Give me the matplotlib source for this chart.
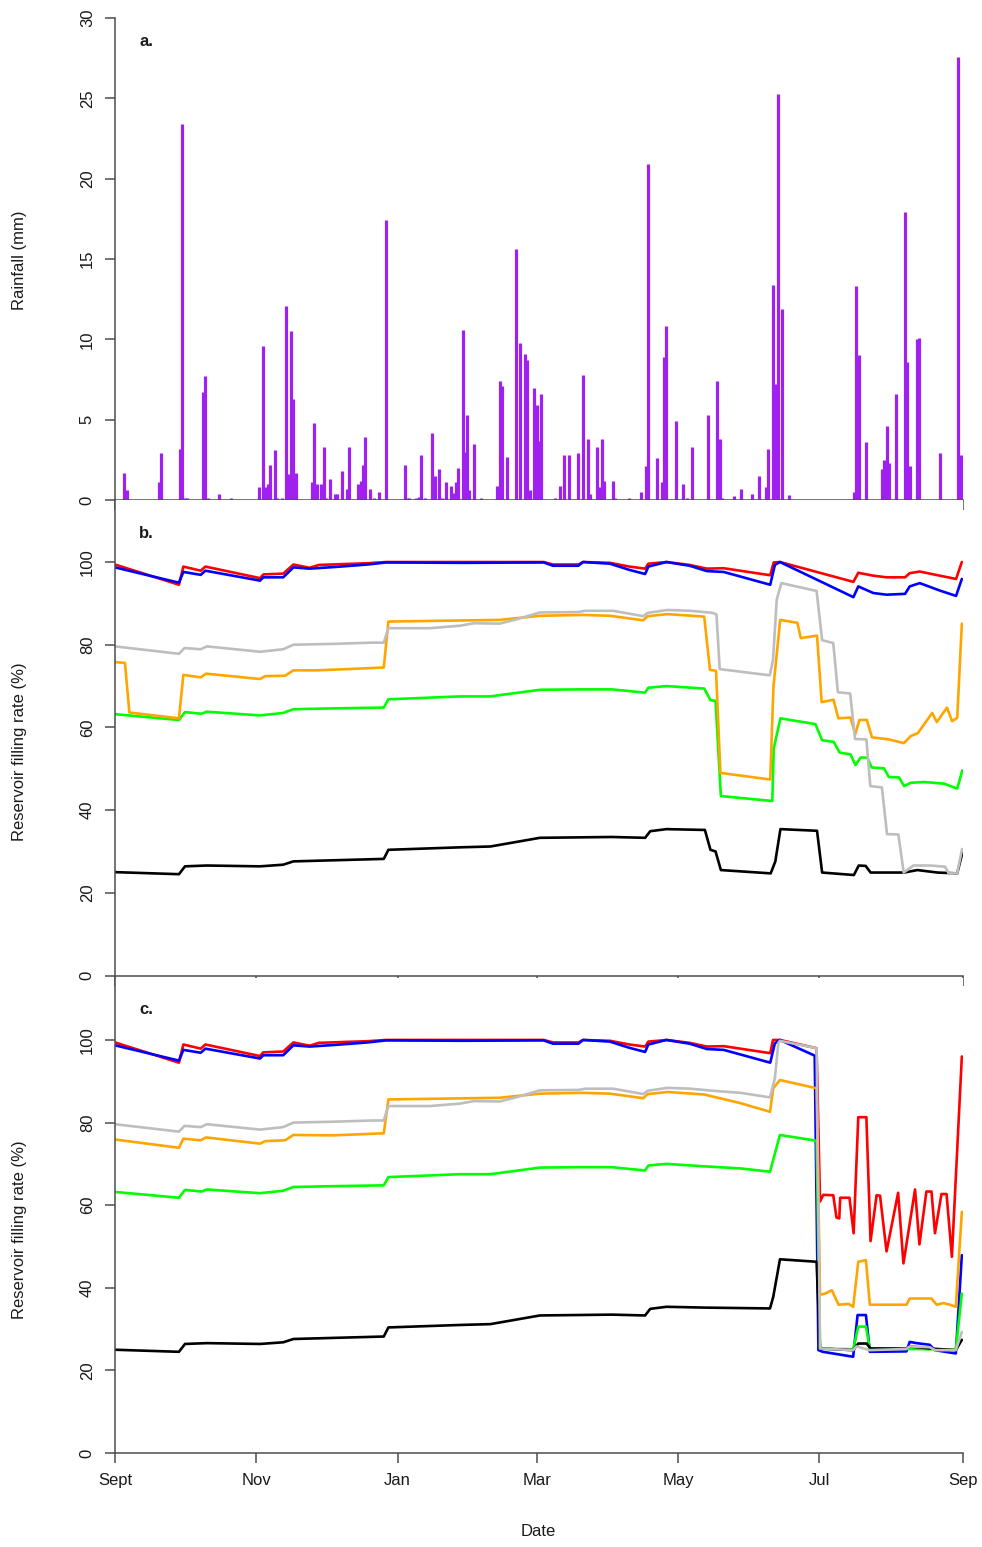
import matplotlib
matplotlib.use('Agg')
import matplotlib.pyplot as plt

plt.rcParams['font.family'] = ['Liberation Sans', 'DejaVu Sans']

# x axis: days since 1 Sept (leap year, so Sep 1 next year = day 366)
month_days = [0, 61, 122, 182, 243, 304, 366]
month_labels = ['Sept', 'Nov', 'Jan', 'Mar', 'May', 'Jul', 'Sep']

# ---- panel a: daily rainfall (mm) ----
rain_days = [4, 5, 19, 20, 28, 29, 30, 31, 38, 39, 40, 45, 50,
             62, 64, 65, 66, 67, 69, 70, 72, 74, 75, 76, 77, 78,
             85, 86, 87, 89, 90, 91, 93, 95, 96, 98, 100, 101, 105, 106, 107, 108,
             110, 112, 114, 117,
             125, 126, 127, 130, 131, 132, 134, 137, 138, 140, 141, 143, 145, 146,
             147, 148, 150, 151, 152, 153, 155, 158,
             165, 166, 167, 169, 173, 175, 177, 178, 179, 181, 182, 183, 184,
             190, 192, 194, 196, 200, 202, 204, 205, 208, 209, 210, 211, 215, 216,
             222, 227, 229, 230, 234, 236, 237, 238, 242, 245, 247, 249,
             256, 260, 261, 262, 267, 270, 275, 278,
             281, 282, 284, 285, 286, 288, 291,
             319, 320, 321, 324, 331, 332, 333, 334, 337, 341, 342, 343, 346, 347,
             356, 364, 365]
rain_mm = [1.7, 0.6, 1.1, 2.9, 3.2, 23.4, 0.1, 0.1, 6.7, 7.7, 0.1, 0.4, 0.1,
           0.8, 9.6, 0.8, 1.0, 2.2, 3.1, 0.1, 0.1, 12.1, 1.6, 10.5, 6.3, 1.7,
           1.1, 4.8, 1.0, 1.0, 3.3, 0.1, 1.3, 0.4, 0.4, 1.8, 0.7, 3.3, 1.0, 1.2, 2.2, 3.9,
           0.7, 0.1, 0.5, 17.4,
           2.2, 0.1, 0.1, 0.1, 0.2, 2.8, 0.1, 4.2, 1.5, 1.9, 0.1, 1.1, 0.9, 0.45,
           1.1, 2.0, 10.6, 3.0, 5.3, 0.6, 3.5, 0.1,
           0.9, 7.4, 7.1, 2.7, 15.6, 9.8, 9.1, 8.7, 0.6, 7.0, 5.9, 3.7, 6.6,
           0.1, 0.9, 2.8, 2.8, 2.9, 7.8, 3.8, 0.35, 3.3, 0.8, 3.8, 1.2, 1.2, 0.1,
           0.1, 0.5, 2.1, 20.9, 2.6, 1.1, 8.9, 10.8, 4.9, 1.0, 0.1, 3.3,
           5.3, 7.4, 3.8, 0.1, 0.25, 0.7, 0.35, 1.5,
           0.8, 3.2, 13.4, 7.2, 25.3, 11.9, 0.3,
           0.5, 13.3, 9.0, 3.6, 1.9, 2.5, 4.6, 2.3, 6.6, 17.9, 8.6, 2.1, 10.0, 10.1,
           2.9, 27.6, 2.8]

# ---- panels b and c: reservoir filling rate (%), (day, value) vertices ----
red_common = [(0, 99.4), (27.6, 94.5), (29.5, 98.9), (37, 97.9), (39, 98.9), (62.6, 96.1),
              (64, 97.0), (72.6, 97.2), (77, 99.4), (84, 98.6), (88, 99.3), (109, 99.7),
              (117, 100.0), (185, 100.0), (189, 99.4), (200, 99.4), (202, 100.0),
              (213.6, 99.8), (222, 98.9), (228.8, 98.4), (230.2, 99.6), (238, 100.0),
              (248, 99.3), (255.5, 98.4), (262.7, 98.5), (282.8, 96.8)]
blue_common = [(0, 98.7), (27.6, 95.0), (29.5, 97.6), (37, 96.9), (39, 97.9), (62.6, 95.5),
               (64, 96.3), (72.6, 96.3), (77, 98.7), (84, 98.4), (95, 98.8), (109, 99.4),
               (117, 99.9), (150, 99.8), (185, 99.9), (189, 99.1), (200, 99.1), (202, 100.0),
               (213.6, 99.6), (222, 98.1), (228.8, 97.1), (230.2, 98.9), (238, 100.0),
               (248, 99.1), (255.5, 97.8), (262.7, 97.6), (282.8, 94.5)]
gray_common = [(0, 79.6), (27.6, 77.8), (30, 79.2), (37, 78.9), (39.6, 79.6), (62.6, 78.3),
               (72.6, 78.9), (77, 80.0), (94, 80.2), (111, 80.5), (116, 80.5), (118, 84.0),
               (136, 84.0), (149, 84.6), (155, 85.2), (166, 85.1), (173, 86.1), (183.4, 87.8),
               (200, 87.9), (203, 88.2), (215, 88.2), (228, 86.9), (229.9, 87.7),
               (238.5, 88.4), (248.4, 88.2), (258, 87.7)]
orange_mid = [(166, 86.0), (183.4, 87.0), (202, 87.2), (213.6, 87.0), (228, 85.9),
              (229.9, 86.9), (238.5, 87.4), (254.3, 86.8)]
green_common = [(0, 63.2), (27.6, 61.8), (30.2, 63.7), (37.4, 63.3), (39.6, 63.8), (62.6, 62.9),
                (72.6, 63.5), (77, 64.4), (94, 64.6), (116, 64.8), (118, 66.8), (149, 67.5),
                (162, 67.5), (183.4, 69.1), (200.7, 69.2), (214.4, 69.2), (228.8, 68.4),
                (230.2, 69.6), (238, 70.0), (254.3, 69.4)]
black_common = [(0, 25.0), (27.6, 24.5), (30.2, 26.4), (39.6, 26.6), (62.6, 26.4), (72.6, 26.8),
                (77, 27.6), (116, 28.2), (118, 30.4), (149, 31.0), (162, 31.2), (183.4, 33.3),
                (214.4, 33.5), (228.8, 33.3), (231, 34.9), (238, 35.4), (254.6, 35.2)]

b_red = red_common + [(284.3, 99.9), (287, 100.0), (318.7, 95.2), (320.8, 97.4), (327.3, 96.7),
                      (333, 96.3), (341, 96.3), (343, 97.3), (347.3, 97.7), (356, 96.7),
                      (363, 95.9), (365.5, 100.0)]
b_blue = blue_common + [(284.8, 99.3), (287, 100.0), (318.7, 91.5), (320.8, 94.1), (327.3, 92.5),
                        (333, 92.1), (341, 92.3), (343, 94.1), (347.3, 94.9), (356, 93.1),
                        (363, 91.8), (365.5, 95.9)]
b_gray = gray_common + [(259.6, 87.3), (261, 74.1), (282.6, 72.6), (284, 76.3), (285.6, 90.9),
                        (287.6, 94.9), (302.8, 93.0), (305.2, 81.1), (310, 80.4), (312, 68.5),
                        (317.3, 68.2), (319.4, 57.2), (324.3, 57.1), (326, 45.8), (331, 45.5),
                        (333.2, 34.2), (338.1, 34.1), (340.4, 24.9), (344.6, 26.6), (351.8, 26.6),
                        (358.3, 26.3), (359.8, 24.7), (363.5, 24.7), (365.6, 30.6)]
b_orange = ([(0, 75.8), (4.3, 75.6), (6.2, 63.6), (27.6, 62.2), (29.5, 72.7), (37, 72.1),
             (39.3, 73.0), (62.6, 71.7), (64.8, 72.4), (73.4, 72.5), (77, 73.8), (87, 73.8),
             (108.6, 74.3), (116, 74.5), (118, 85.6)] + orange_mid +
            [(256.8, 73.9), (259.4, 73.7), (261.3, 49.0), (282.8, 47.4), (284.2, 69.9),
             (287.1, 86.0), (294.5, 85.3), (296, 81.6), (303, 82.2), (305, 66.1), (310.1, 66.7),
             (312.2, 62.2), (317.4, 62.4), (319.5, 58.4), (321.3, 61.8), (324.5, 61.8),
             (326.7, 57.6), (334, 57.1), (340.5, 56.2), (343.4, 57.9), (346.5, 58.6),
             (352.7, 63.5), (354.7, 61.3), (359.1, 64.8), (361.3, 61.5), (363.5, 62.3),
             (365.5, 85.1)])
b_green = green_common + [(257, 66.6), (259.2, 66.4), (261.5, 43.4), (283.7, 42.2), (284.3, 54.9),
                          (287.2, 62.2), (302.3, 60.8), (305.2, 56.9), (310.2, 56.5),
                          (312.8, 53.9), (317.4, 53.5), (319.6, 50.9), (321.8, 52.7),
                          (324.7, 52.7), (326.6, 50.3), (331.9, 50.1), (334, 48.0),
                          (338.4, 47.9), (340.6, 45.8), (343.4, 46.6), (349.2, 46.8),
                          (357.8, 46.4), (363.5, 45.2), (365.7, 49.6)]
b_black = black_common + [(257, 30.4), (259.2, 30.0), (261.5, 25.5), (283, 24.7), (285, 27.6),
                          (287.2, 35.4), (303, 35.0), (305.2, 24.9), (318.9, 24.3), (321, 26.6),
                          (324, 26.5), (326.1, 24.9), (340.6, 24.9), (346.3, 25.5), (355, 24.9),
                          (363.5, 24.7), (365.7, 29.6)]

c_red = red_common + [(284, 100.0), (287, 100.0), (302.8, 98.0), (304.3, 60.9), (305.7, 62.5),
                      (310, 62.4), (311.4, 57.0), (312.6, 56.8), (313, 61.8), (317, 61.8),
                      (318.8, 53.2), (320.8, 81.3), (324.3, 81.3), (326.1, 51.3), (328.7, 62.4),
                      (330.2, 62.3), (333, 48.8), (338, 63.0), (340.3, 45.9), (345.3, 63.8),
                      (347.2, 50.5), (350.2, 63.3), (352.4, 63.3), (353.9, 53.2), (356.7, 62.7),
                      (358.9, 62.7), (361.2, 47.5), (365.5, 96.0)]
c_blue = blue_common + [(284.8, 99.2), (287, 100.0), (302, 96.2), (303.6, 24.9), (305.5, 24.5),
                        (318.6, 23.3), (320.5, 33.4), (324.1, 33.4), (325.8, 24.5), (341.6, 24.6),
                        (343, 26.9), (345.9, 26.6), (351.6, 26.2), (353.8, 24.9), (362.9, 24.1),
                        (365.5, 47.9)]
c_gray = gray_common + [(270, 87.2), (282.7, 86.1), (284.8, 90.7), (286.3, 99.3), (287, 99.8),
                        (302.8, 98.0), (304.3, 25.3), (318.6, 24.9), (320, 25.8), (325.8, 24.9),
                        (341.6, 25.2), (343, 25.8), (351.6, 25.6), (354, 24.9), (362.9, 24.9),
                        (365.5, 29.3)]
c_orange = ([(0, 75.9), (27.6, 73.9), (29.5, 76.1), (37, 75.7), (39.3, 76.4), (62.6, 74.9),
             (64.8, 75.5), (73.4, 75.7), (77, 77.0), (94, 76.9), (116, 77.4), (118, 85.6)] +
            orange_mid +
            [(270, 84.7), (282.7, 82.6), (284.1, 88.3), (287, 90.3), (302.8, 88.3), (304.3, 38.3),
             (306.5, 38.6), (309.4, 39.4), (312.3, 35.9), (316.6, 36.1), (318.6, 35.4),
             (320.8, 46.3), (324.1, 46.7), (325.8, 35.9), (341.6, 35.9), (343, 37.4),
             (352.4, 37.4), (354.6, 35.9), (357.5, 36.3), (360.4, 35.9), (362.9, 35.4),
             (365.5, 58.4)])
c_green = green_common + [(270, 68.9), (282.7, 68.1), (284.1, 71.0), (287, 77.0), (302.8, 75.6),
                          (304.3, 25.3), (318.6, 25.1), (320.8, 30.6), (324.1, 30.6),
                          (325.8, 25.3), (341.6, 25.2), (362.9, 25.0), (365.5, 38.6)]
c_black = black_common + [(282.7, 35.0), (284.1, 37.8), (287, 46.9), (302.8, 46.3),
                          (304.3, 25.3), (318.6, 24.9), (320.8, 26.5), (324.4, 26.5),
                          (326.1, 25.3), (341.6, 25.3), (343, 25.8), (351.6, 25.3),
                          (362.9, 24.9), (365.5, 27.4)]

line_colors = {'red': '#FF0000', 'blue': '#0000FF', 'green': '#00FF00',
               'orange': '#FFA500', 'black': '#000000', 'gray': '#BEBEBE'}
axis_col = '#4d4d4d'
text_col = '#1a1a1a'

W, H = 982, 1547
fig = plt.figure(figsize=(W / 100, H / 100), dpi=100)


def add_ax(top_px, bottom_px):
    return fig.add_axes([115 / W, 1 - bottom_px / H, 848 / W, (bottom_px - top_px) / H])


def style(ax, ylim, yticks, xlabels):
    ax.set_xlim(0, 366)
    ax.set_ylim(*ylim)
    ax.spines['top'].set_visible(False)
    ax.spines['right'].set_visible(False)
    for s in ('left', 'bottom'):
        ax.spines[s].set_color(axis_col)
        ax.spines[s].set_linewidth(1.1)
    ax.set_xticks(month_days)
    ax.set_yticks(yticks)
    ax.tick_params(direction='out', length=7, width=1.1, color=axis_col,
                   labelsize=12, labelcolor=text_col, pad=7.5)
    ax.tick_params(axis='y', labelrotation=90)
    for lbl in ax.get_yticklabels():
        lbl.set_va('center')
    if xlabels:
        ax.set_xticklabels(month_labels)
    else:
        ax.set_xticklabels([])


def draw_lines(ax, series):
    for name, pts in series:
        xs = [p[0] for p in pts]
        ys = [p[1] for p in pts]
        ax.plot(xs, ys, color=line_colors[name], lw=1.9,
                solid_capstyle='round', solid_joinstyle='round')


ax_a = add_ax(18, 500)
ax_a.vlines(rain_days, 0, rain_mm, color='#A020F0', lw=2.3)
style(ax_a, (0, 30), [0, 5, 10, 15, 20, 25, 30], False)

ax_b = add_ax(500, 975.5)
draw_lines(ax_b, [('red', b_red), ('blue', b_blue), ('green', b_green),
                  ('orange', b_orange), ('black', b_black), ('gray', b_gray)])
style(ax_b, (0, 115), [0, 20, 40, 60, 80, 100], False)

ax_c = add_ax(978, 1453)
draw_lines(ax_c, [('red', c_red), ('blue', c_blue), ('green', c_green),
                  ('orange', c_orange), ('black', c_black), ('gray', c_gray)])
style(ax_c, (0, 115), [0, 20, 40, 60, 80, 100], True)

for lab, ypx in (('a.', 42), ('b.', 534), ('c.', 1010)):
    fig.text(139 / W, 1 - ypx / H, lab, fontsize=12, fontweight='bold',
             color=text_col, ha='left', va='center')

fig.text(20 / W, 1 - 260 / H, 'Rainfall (mm)', rotation=90, fontsize=12,
         color=text_col, ha='center', va='center')
fig.text(20 / W, 1 - 752 / H, 'Reservoir filling rate (%)', rotation=90, fontsize=12,
         color=text_col, ha='center', va='center')
fig.text(20 / W, 1 - 1230 / H, 'Reservoir filling rate (%)', rotation=90, fontsize=12,
         color=text_col, ha='center', va='center')
fig.text(538 / W, 1 - 1532 / H, 'Date', fontsize=12, color=text_col,
         ha='center', va='center')

fig.savefig('out.png', dpi=100)
